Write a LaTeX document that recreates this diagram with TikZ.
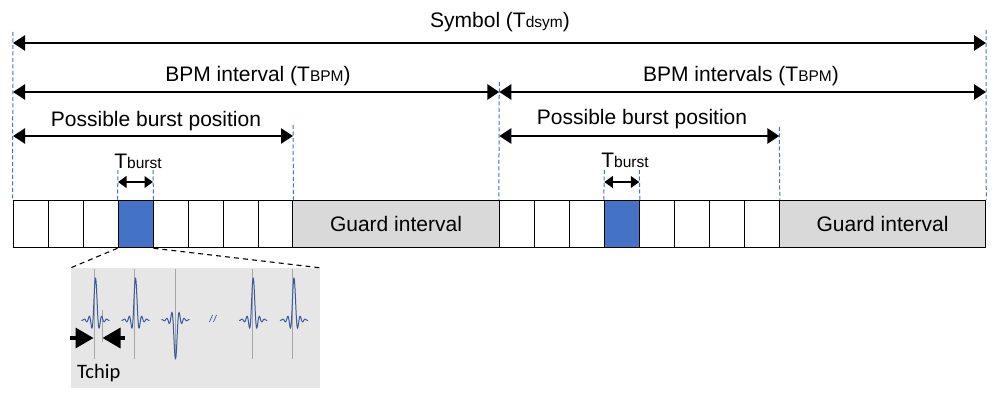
\documentclass[tikz,border=0pt]{standalone}
\usepackage{fontspec}
\setmainfont{Liberation Sans}
\newfontfamily\chipfont{Carlito}
\usetikzlibrary{arrows.meta}
\definecolor{dashblue}{HTML}{4472C4}
\definecolor{burstblue}{HTML}{4472C4}
\definecolor{guardgray}{HTML}{D9D9D9}
\definecolor{zoomgray}{HTML}{E7E6E6}
\definecolor{wavecol}{HTML}{3A5A9A}
\definecolor{chipgray}{HTML}{A6A6A6}
\newcommand{\mainsz}{\fontsize{21}{25}\selectfont}
\newcommand{\subsz}[1]{{\fontsize{15.5}{18}\selectfont #1}}
\begin{document}
\begin{tikzpicture}[x=1pt,y=-1pt,
  declare function={wl(\t)=sin(deg(1.25*\t))/(1.25*\t)*exp(-(\t/10)^2);},
  lbl/.style={font=\mainsz, inner sep=0, anchor=base},
  cell/.style={draw=black, line width=1pt, minimum width=35pt, minimum height=47.5pt, inner sep=0, fill=white},
  burstcell/.style={cell, fill=burstblue},
  guardbox/.style={draw=black, line width=1pt, minimum width=206.5pt, minimum height=47.5pt, inner sep=0, fill=guardgray, font=\mainsz},
  guide/.style={draw=dashblue, line width=1pt, dash pattern=on 4pt off 2.5pt},
  bigarrow/.style={line width=2.8pt, {Triangle[length=12pt,width=15pt]}-{Triangle[length=12pt,width=15pt]}},
  smallarrow/.style={line width=2.6pt, {Triangle[length=8.5pt,width=11.5pt]}-{Triangle[length=8.5pt,width=11.5pt]}},
  chiparrow/.style={line width=3.5pt, -{Triangle[length=18pt,width=20pt]}},
  zoomdash/.style={line width=1.1pt, dash pattern=on 5pt off 4pt},
  chipline/.style={draw=chipgray, line width=1pt},
  wave/.style={draw=wavecol, line width=1pt}
]
\useasboundingbox (0,0) rectangle (1000,403);

% ---- bar cells ----
\foreach \i in {0,1,2,4,5,6,7} {
  \node[cell] (a\i) at ({13+35*\i+17.5},224) {};
  \node[cell] (b\i) at ({499.3+35*\i+17.5},224) {};
}
\node[burstcell] (a3) at ({13+35*3+17.5},224) {};
\node[burstcell] (b3) at ({499.3+35*3+17.5},224) {};
\node[guardbox] (g1) at (396,224) {Guard interval};
\node[guardbox] (g2) at (882.5,224) {Guard interval};

% ---- guide coordinates ----
\coordinate (t0) at (13,32);
\coordinate (t1) at (293,125);
\coordinate (t2) at (499.3,82);
\coordinate (t3) at (986,30);
\coordinate (t4) at (779.3,127);
\coordinate (ta1) at (118,170);
\coordinate (ta2) at (153,170);
\coordinate (tb1) at (604.3,170);
\coordinate (tb2) at (639.3,170);

\draw[guide] (t0) -- (a0.north west);
\draw[guide] (t1) -- (a7.north east);
\draw[guide] (t2) -- (b0.north west);
\draw[guide] (t3) -- (g2.north east);
\draw[guide] (t4) -- (b7.north east);
\draw[guide] (ta1) -- (a3.north west);
\draw[guide] (ta2) -- (a3.north east);
\draw[guide] (tb1) -- (b3.north west);
\draw[guide] (tb2) -- (b3.north east);

% ---- arrows ----
\coordinate (s1) at (13,43);   \coordinate (s2) at (986,43);
\coordinate (p1) at (13,92);   \coordinate (p2) at (499.3,92); \coordinate (p3) at (986,92);
\coordinate (q1) at (13,136);  \coordinate (q2) at (293,136);
\coordinate (q3) at (499.3,136); \coordinate (q4) at (779.3,136);
\coordinate (r1) at (118,182); \coordinate (r2) at (153,182);
\coordinate (r3) at (604.3,182); \coordinate (r4) at (639.3,182);

\draw[bigarrow] (s1) -- (s2);
\draw[bigarrow] (p1) -- (p2);
\draw[bigarrow] (p2) -- (p3);
\draw[bigarrow] (q1) -- (q2);
\draw[bigarrow] (q3) -- (q4);
\draw[smallarrow] (r1) -- (r2);
\draw[smallarrow] (r3) -- (r4);

% ---- labels ----
\node[lbl] (lsym) at (500,28) {Symbol (T\subsz{dsym})};
\node[lbl] (lbpm1) at (258,82) {BPM interval (T\subsz{BPM})};
\node[lbl] (lbpm2) at (741,82) {BPM intervals (T\subsz{BPM})};
\node[lbl] (lpos1) at (156,127) {Possible burst position};
\node[lbl] (lpos2) at (642,125) {Possible burst position};
\node[lbl] (lbur1) at (138,169) {T\subsz{burst}};
\node[lbl] (lbur2) at (625,168) {T\subsz{burst}};

% ---- zoom panel ----
\node[fill=zoomgray, minimum width=249pt, minimum height=120pt, inner sep=0] (zoom) at (195.5,328) {};
\draw[zoomdash] (a3.south west) -- (zoom.north west);
\draw[zoomdash] (a3.south east) -- (zoom.north east);

\foreach \cx in {94,134,175,252,292} {
  \draw[chipline] (\cx,269) -- (\cx,359);
}
\draw[chipline] (102,310) -- (102,342);

\foreach \cx/\amp in {95.5/42, 135.5/42, 175.5/-39, 253.2/42, 294/42} {
  \draw[wave] plot[domain=-14:14, samples=100, smooth] ({\cx+\x},{320-\amp*wl(\x)});
}
\draw[wave, line width=0.7pt] (209.5,322) -- (212.5,315);
\draw[wave, line width=0.7pt] (213.5,322) -- (216.5,315);

\coordinate (ca1) at (70,338);  \coordinate (ca2) at (93.5,338);
\coordinate (cb1) at (125,338); \coordinate (cb2) at (102.5,338);
\draw[chiparrow] (ca1) -- (ca2);
\draw[chiparrow] (cb1) -- (cb2);

\node[anchor=base west, inner sep=0, font=\chipfont\fontsize{20.5}{24}\selectfont] (lchip) at (77,378) {Tchip};
\end{tikzpicture}
\end{document}
